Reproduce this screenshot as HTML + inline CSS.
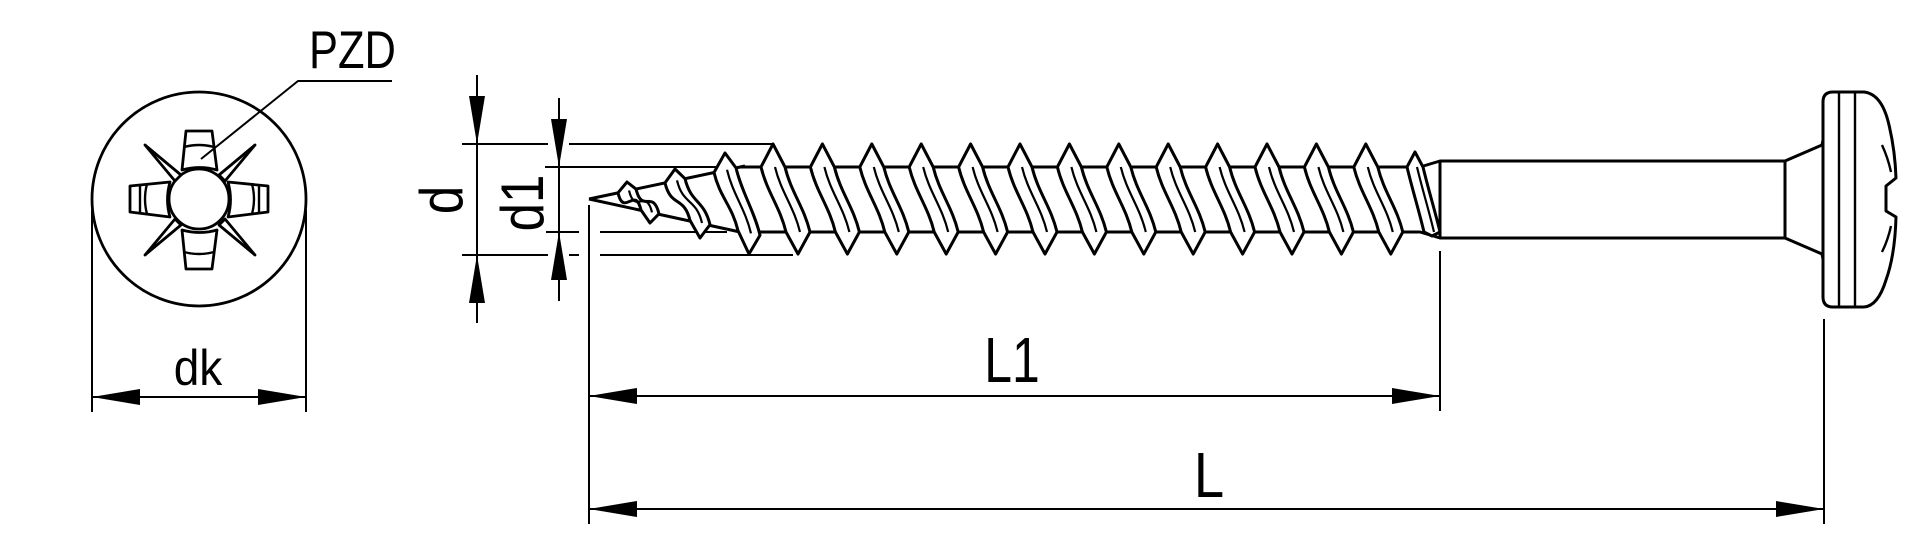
<!DOCTYPE html>
<html><head><meta charset="utf-8"><style>
html,body{margin:0;padding:0;background:#fff;}
svg{display:block;}
text{font-family:"Liberation Sans",Arial,sans-serif;fill:#000;}
</style></head><body>
<svg id="s" width="1920" height="548" viewBox="0 0 1920 548" xmlns="http://www.w3.org/2000/svg">
<g fill="none" stroke="#000" stroke-width="2.8" stroke-linejoin="round">
<!-- head view -->
<circle cx="199" cy="199" r="107"/>
<g fill="#fff">
<path d="M186,131 L212,131 L217,170 Q200,165 182,170 Z"/>
<path d="M186,269 L212,269 L217,230 Q200,235 182,230 Z"/>
<path d="M130,186 L130,212 L170,217 Q165,200 170,182 Z"/>
<path d="M268,186 L268,212 L228,217 Q233,200 228,182 Z"/>
<circle cx="199" cy="199" r="30" fill="none"/>
<path d="M145,145 L181,175 L175,181 Z"/>
<path d="M255,145 L219,175 L225,181 Z"/>
<path d="M145,255 L181,225 L175,219 Z"/>
<path d="M255,255 L219,225 L225,219 Z"/>
</g>
<path d="M184,147 Q199,143 214,147 M184,252 Q199,256 214,252 M147,184 Q143,199 147,214 M140,185 L140,213 M252,184 Q256,199 252,214 M259,185 L259,213" stroke-width="2.4"/>
<path d="M201,159 L298,81 L392,81" stroke-width="2"/>
<!-- dk dimension -->
<path d="M92,210 L92,412 M306,210 L306,412 M92,397 L306,397" stroke-width="2"/>
</g>
<g fill="#000">
<path d="M92,397 L140,389 L140,405 Z"/>
<path d="M306,397 L258,389 L258,405 Z"/>
</g>
<text x="309" y="68" font-size="53" transform="translate(309 0) scale(0.82 1) translate(-309 0)">PZD</text>
<text x="198" y="385" font-size="50" text-anchor="middle" transform="translate(198 0) scale(0.92 1) translate(-198 0)">dk</text>

<!-- d / d1 dimensions -->
<g fill="none" stroke="#000" stroke-width="2">
<path d="M477,75 L477,323 M559,98 L559,301"/>
<path d="M462,144 L548,144 M569,144 L773,144"/>
<path d="M545,167 L716,167"/>
<path d="M546,232 L579,232 M600,232 L727,232"/>
<path d="M462,255 L548,255 M569,255 L579,255 M600,255 L793,255"/>
<path d="M589,205 L589,524 M1440,251 L1440,411 M1824,319 L1824,524"/>
<path d="M589,396 L1440,396 M589,509 L1824,509"/>
</g>
<g fill="#000">
<path d="M477,144 L469,96 L485,96 Z"/>
<path d="M477,255 L469,303 L485,303 Z"/>
<path d="M559,167 L551,119 L567,119 Z"/>
<path d="M559,232 L551,280 L567,280 Z"/>
<path d="M589,396 L637,388 L637,404 Z"/>
<path d="M1440,396 L1392,388 L1392,404 Z"/>
<path d="M589,509 L637,501 L637,517 Z"/>
<path d="M1824,509 L1776,501 L1776,517 Z"/>
</g>
<text font-size="60" text-anchor="middle" transform="translate(462 200) rotate(-90) scale(0.85 1)">d</text>
<text font-size="60" text-anchor="middle" transform="translate(543 203) rotate(-90) scale(0.85 1)">d1</text>
<text x="1012" y="382" font-size="64" text-anchor="middle" transform="translate(1012 0) scale(0.78 1) translate(-1012 0)">L1</text>
<text x="1209" y="497" font-size="64" text-anchor="middle" transform="translate(1209 0) scale(0.85 1) translate(-1209 0)">L</text>

<!-- screw body -->
<g fill="none" stroke="#000" stroke-width="3" stroke-linejoin="round" id="screw">
<path d="M589,199 L745,166 M589,199 L740,232"/>
<path d="M740,167 L1420,167 L1440,161 L1785,161 L1785,238 L1440,238 L1420,232 L740,232"/>
<path d="M1440,161 L1440,238"/>
<path d="M1785,161 L1822,145 L1823,140 M1785,238 L1822,254 L1823,259"/>
<path d="M1833,92 L1864,92 Q1882,94 1889,125 Q1895,150 1896,178 L1886,186 L1886,211 L1896,217 Q1895,255 1886,280 Q1878,306 1864,307 L1833,307 Q1823,307 1823,297 L1823,102 Q1823,92 1833,92 Z" fill="#fff"/>
<path d="M1839,93 L1839,306 M1855,93 L1855,306" stroke-width="2.4"/>
<path d="M1882,145 Q1888,158 1891,172 M1882,252 Q1888,240 1891,226" stroke-width="2.4"/>
</g>
</svg>
<script>
(function(){
var g=document.getElementById('screw');
var NS='http://www.w3.org/2000/svg';
function ct(x){return 199-0.212*(x-589);}
function cb(x){return 199+0.212*(x-589);}
function thread(cx,yt,bx,yb,hw,cone){
  var t0=cone?ct(cx-hw):167, t1=cone?ct(cx+hw):167;
  var b0=cone?cb(bx-hw):232, b1=cone?cb(bx+hw):232;
  var d='M'+(cx-hw)+','+t0+' L'+cx+','+yt+' L'+(cx+hw)+','+t1+
    ' C'+(cx+hw+6)+','+(t1+25)+' '+(bx+hw-6)+','+(b1-25)+' '+(bx+hw)+','+b1+
    ' L'+bx+','+yb+' L'+(bx-hw)+','+b0+
    ' C'+(bx-hw-6)+','+(b0-25)+' '+(cx-hw+6)+','+(t0+25)+' '+(cx-hw)+','+t0+' Z';
  var p=document.createElementNS(NS,'path');p.setAttribute('d',d);p.setAttribute('fill','#fff');
  g.insertBefore(p,g.children[3]);
  var m=document.createElementNS(NS,'path');
  var mx=cx+2,nx=bx+2;
  m.setAttribute('d','M'+mx+','+(cone?ct(mx):167)+' C'+(mx+6)+','+((cone?ct(mx):167)+25)+' '+(nx-6)+','+((cone?cb(nx):232)-25)+' '+nx+','+(cone?cb(nx):232));
  m.setAttribute('stroke-width','2.2');
  g.insertBefore(m,g.children[4]);
}
thread(627,182,650,223,9,true);
thread(675,169,700,238,10,true);
thread(725,153,749,254,11,true);
for(var k=0;k<13;k++){var cx=773+49.4*k;thread(cx,144,cx+25,254,12,false);}
thread(1415,152,1432,236,8,false);
})();
</script>
</body></html>
